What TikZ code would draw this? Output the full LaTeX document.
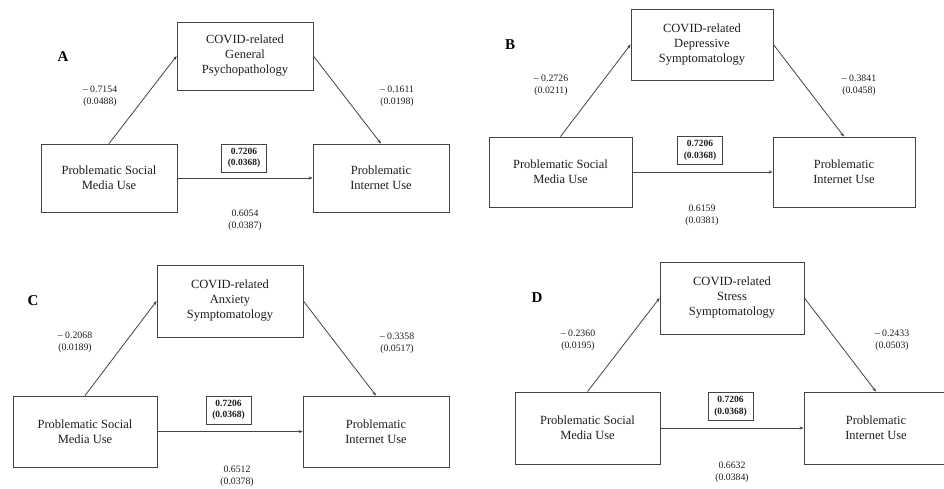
\documentclass[tikz,border=0pt]{standalone}
\usepackage{fontspec}
\setmainfont{Liberation Serif}
\usetikzlibrary{arrows.meta}
\definecolor{linec}{HTML}{444444}
\definecolor{textc}{HTML}{1E1E1E}
\tikzset{
  vbox/.style={draw=linec, line width=0.8pt, rectangle, align=center, inner sep=0pt, text=textc, font=\fontsize{12.5}{15}\selectfont},
  coef/.style={align=center, inner sep=0pt, text=textc, font=\fontsize{9.8}{12}\selectfont},
  bcoef/.style={draw=linec, line width=0.7pt, align=center, inner sep=0pt, text=textc, minimum width=45pt, minimum height=28pt, font=\bfseries\fontsize{9.5}{11.5}\selectfont},
  arr/.style={draw=linec, line width=0.8pt, -{Stealth[length=4pt,width=3.2pt]}},
  plabel/.style={inner sep=0pt, text=black, font=\bfseries\fontsize{15}{18}\selectfont}
}
\begin{document}
\begin{tikzpicture}[x=1pt,y=-1pt]
\useasboundingbox (0,0) rectangle (944,488);
\clip (0,0) rectangle (944,488);
\fill[white] (0,0) rectangle (944,488);

% ---------- Panel A ----------
\node[plabel] (labA) at (63,57) {A};
\node[vbox, minimum width=136pt, minimum height=68pt] (medA) at (245,56) {COVID-related\\General\\Psychopathology};
\node[vbox, minimum width=136pt, minimum height=68pt] (leftA) at (109,178) {Problematic Social\\Media Use};
\node[vbox, minimum width=136pt, minimum height=68pt] (rightA) at (381,178) {Problematic\\Internet Use};
\draw[arr] (leftA.north) -- (medA.west);
\draw[arr] (medA.east) -- (rightA.north);
\draw[arr] (leftA.east) -- (rightA.west);
\node[coef] (aA) at (100,96) {– 0.7154\\(0.0488)};
\node[coef] (bA) at (397,96) {– 0.1611\\(0.0198)};
\node[coef] (cA) at (245,220) {0.6054\\(0.0387)};
\node[bcoef] (tA) at (244,158) {0.7206\\(0.0368)};

% ---------- Panel B ----------
\node[plabel] (labB) at (510,45) {B};
\node[vbox, minimum width=142pt, minimum height=71pt] (medB) at (702,44.5) {COVID-related\\Depressive\\Symptomatology};
\node[vbox, minimum width=143pt, minimum height=70pt] (leftB) at (560.5,172) {Problematic Social\\Media Use};
\node[vbox, minimum width=142pt, minimum height=70pt] (rightB) at (844,172) {Problematic\\Internet Use};
\draw[arr] (leftB.north) -- (medB.west);
\draw[arr] (medB.east) -- (rightB.north);
\draw[arr] (leftB.east) -- (rightB.west);
\node[coef] (aB) at (551,85) {– 0.2726\\(0.0211)};
\node[coef] (bB) at (859,85) {– 0.3841\\(0.0458)};
\node[coef] (cB) at (702,215) {0.6159\\(0.0381)};
\node[bcoef] (tB) at (700,150.5) {0.7206\\(0.0368)};

% ---------- Panel C ----------
\node[plabel] (labC) at (33,301) {C};
\node[vbox, minimum width=146pt, minimum height=72pt] (medC) at (230,301) {COVID-related\\Anxiety\\Symptomatology};
\node[vbox, minimum width=144pt, minimum height=71pt] (leftC) at (85,431.5) {Problematic Social\\Media Use};
\node[vbox, minimum width=146pt, minimum height=71pt] (rightC) at (376,431.5) {Problematic\\Internet Use};
\draw[arr] (leftC.north) -- (medC.west);
\draw[arr] (medC.east) -- (rightC.north);
\draw[arr] (leftC.east) -- (rightC.west);
\node[coef] (aC) at (75,342) {– 0.2068\\(0.0189)};
\node[coef] (bC) at (397,343) {– 0.3358\\(0.0517)};
\node[coef] (cC) at (237,476) {0.6512\\(0.0378)};
\node[bcoef] (tC) at (228.5,410) {0.7206\\(0.0368)};

% ---------- Panel D ----------
\node[plabel] (labD) at (537,298) {D};
\node[vbox, minimum width=144pt, minimum height=72pt] (medD) at (732,298) {COVID-related\\Stress\\Symptomatology};
\node[vbox, minimum width=145pt, minimum height=72pt] (leftD) at (587.5,428) {Problematic Social\\Media Use};
\node[vbox, minimum width=144pt, minimum height=72pt] (rightD) at (876,428) {Problematic\\Internet Use};
\draw[arr] (leftD.north) -- (medD.west);
\draw[arr] (medD.east) -- (rightD.north);
\draw[arr] (leftD.east) -- (rightD.west);
\node[coef] (aD) at (578,340) {– 0.2360\\(0.0195)};
\node[coef] (bD) at (892,340) {– 0.2433\\(0.0503)};
\node[coef] (cD) at (732,472) {0.6632\\(0.0384)};
\node[bcoef] (tD) at (730.5,406.5) {0.7206\\(0.0368)};
\end{tikzpicture}
\end{document}
